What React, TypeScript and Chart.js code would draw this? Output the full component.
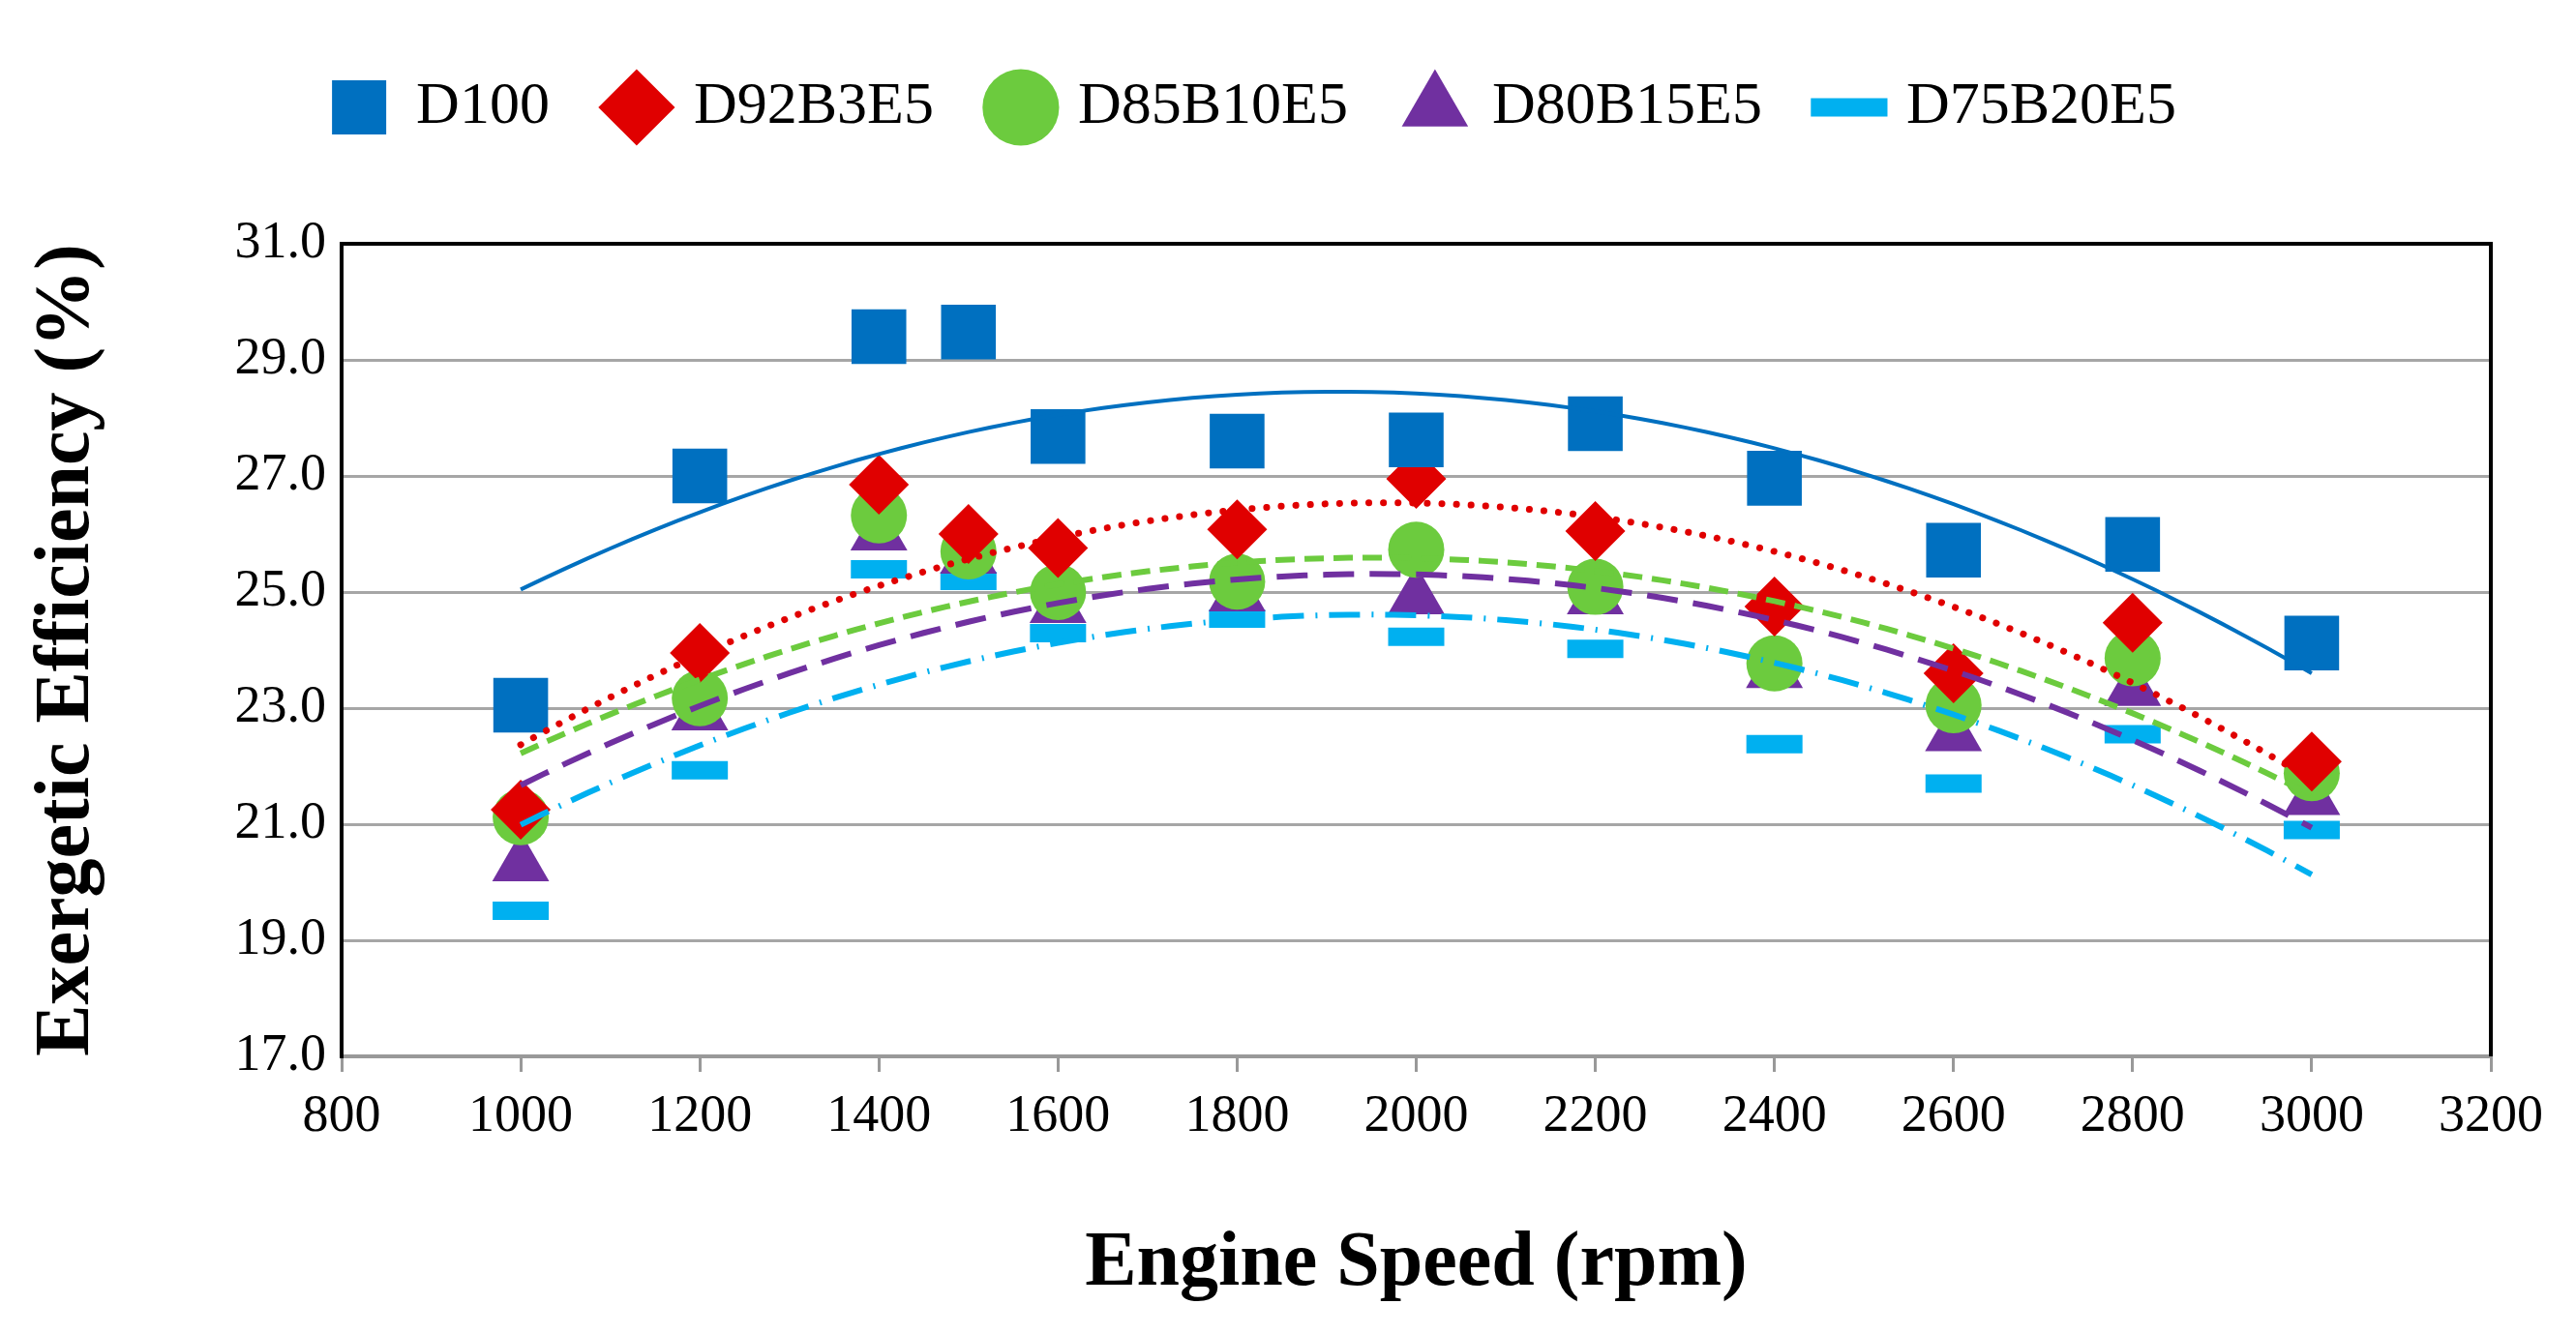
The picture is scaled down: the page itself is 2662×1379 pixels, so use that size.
import React, { useEffect, useRef } from "react";
import { Chart, registerables } from "chart.js";
Chart.register(...registerables);

const speeds = [1000, 1200, 1400, 1500, 1600, 1800, 2000, 2200, 2400, 2600, 2800, 3000];
const seriesNames = ["D100", "D92B3E5", "D85B10E5", "D80B15E5", "D75B20E5"];
const d100 = [23.05, 27.0, 29.4, 29.48, 27.68, 27.6, 27.62, 27.9, 26.96, 25.72, 25.82, 24.12];
const d92 = [21.25, 23.95, 26.85, 26.0, 25.76, 26.08, 26.95, 26.05, 24.75, 23.6, 24.47, 22.08];
const d85 = [21.12, 23.17, 26.32, 25.7, 25.0, 25.18, 25.73, 25.09, 23.77, 23.05, 23.86, 21.88];
const d80 = [20.3, 22.9, 26.0, 25.6, 24.75, 24.95, 24.9, 24.9, 23.63, 22.54, 23.32, 21.44];
const d75 = [19.51, 21.93, 25.39, 25.19, 24.29, 24.54, 24.23, 24.02, 22.38, 21.7, 22.55, 20.9];
const yTicks = [17, 19, 21, 23, 25, 27, 29, 31];

const colors = ["#0070C0", "#E00000", "#6CCB3E", "#7030A0", "#00B0F0"];
const styles = ["rect", "rectRot", "circle", "triangle", "line"];
const radii = [40, 31, 29, 34, 29];
const dashes: number[][] = [[], [0.1, 15], [20, 10], [32, 16], [32, 12, 2, 12]];
const widths = [4, 7, 6, 6, 6];

function fitQuad(xs: number[], ys: number[]) {
  const s = [0, 0, 0, 0, 0];
  const t = [0, 0, 0];
  xs.forEach((x0, i) => {
    const x = x0 / 1000;
    for (let k = 0; k < 5; k++) s[k] += Math.pow(x, k);
    for (let k = 0; k < 3; k++) t[k] += ys[i] * Math.pow(x, k);
  });
  const A = [
    [s[0], s[1], s[2], t[0]],
    [s[1], s[2], s[3], t[1]],
    [s[2], s[3], s[4], t[2]],
  ];
  for (let i = 0; i < 3; i++) {
    for (let j = i + 1; j < 3; j++) {
      const f = A[j][i] / A[i][i];
      for (let k = i; k < 4; k++) A[j][k] -= f * A[i][k];
    }
  }
  const c = [0, 0, 0];
  for (let i = 2; i >= 0; i--) {
    let v = A[i][3];
    for (let k = i + 1; k < 3; k++) v -= A[i][k] * c[k];
    c[i] = v / A[i][i];
  }
  const pts = [];
  for (let x0 = 1000; x0 <= 3000; x0 += 25) {
    const x = x0 / 1000;
    pts.push({ x: x0, y: c[0] + c[1] * x + c[2] * x * x });
  }
  return pts;
}

export default function App() {
  const ref = useRef<HTMLCanvasElement>(null);
  useEffect(() => {
    const all = [d100, d92, d85, d80, d75];
    const datasets: any[] = [];
    all.forEach((vals, i) => {
      datasets.push({
        label: seriesNames[i],
        data: speeds.map((x, j) => ({ x, y: vals[j] })),
        pointStyle: styles[i],
        pointRadius: radii[i],
        backgroundColor: colors[i],
        borderColor: colors[i],
        pointBorderWidth: i === 4 ? 19 : 0,
        showLine: false,
        order: 1,
      });
    });
    all.forEach((vals, i) => {
      datasets.push({
        label: "trend" + i,
        data: fitQuad(speeds, vals),
        showLine: true,
        pointRadius: 0,
        borderColor: colors[i],
        borderWidth: widths[i],
        borderDash: dashes[i],
        borderCapStyle: i === 1 ? "round" : "butt",
        fill: false,
        order: 0,
      });
    });
    const frame = {
      id: "frame",
      afterInit(chart: any) {
        const lg = chart.legend;
        if (lg) {
          const orig = lg.fit;
          lg.fit = function () {
            orig.call(this);
            this.height += 100;
          };
        }
      },
      afterDraw(chart: any) {
        const { ctx, chartArea: a } = chart;
        ctx.save();
        ctx.strokeStyle = "#000";
        ctx.lineWidth = 4;
        ctx.beginPath();
        ctx.moveTo(a.left, a.bottom);
        ctx.lineTo(a.left, a.top);
        ctx.lineTo(a.right, a.top);
        ctx.lineTo(a.right, a.bottom);
        ctx.stroke();
        ctx.restore();
      },
    };
    const serif = "'Liberation Serif', 'Times New Roman', serif";
    const chart = new Chart(ref.current!, {
      type: "scatter",
      data: { datasets },
      plugins: [frame],
      options: {
        animation: false,
        responsive: false,
        devicePixelRatio: 1,
        layout: { padding: { top: 10, left: 10, right: 80, bottom: 12 } },
        plugins: {
          tooltip: { enabled: false },
          legend: {
            position: "top",
            labels: {
              filter: (item: any) => item.datasetIndex < 5,
              usePointStyle: true,
              boxHeight: 56,
              boxWidth: 56,
              padding: 62,
              color: "#000",
              font: { family: serif, size: 62 },
            },
          },
        },
        scales: {
          x: {
            type: "linear",
            min: 800,
            max: 3200,
            afterFit: (s: any) => { s.height = 267; },
            ticks: { stepSize: 200, color: "#000", font: { family: serif, size: 54 }, padding: 14, maxRotation: 0, callback: (v: any) => String(v) },
            grid: { drawOnChartArea: false, drawTicks: true, tickLength: 16, color: "#999", lineWidth: 3 },
            border: { color: "#999", width: 4 },
            title: { display: true, text: "Engine Speed (rpm)", color: "#000", font: { family: serif, size: 80, weight: "bold" }, padding: { top: 28 } },
          },
          y: {
            min: 17,
            max: 31,
            afterFit: (s: any) => { s.width = 335; },
            afterBuildTicks: (s: any) => { s.ticks = yTicks.map((v) => ({ value: v })); },
            ticks: { color: "#000", font: { family: serif, size: 54 }, padding: 16, callback: (v: any) => Number(v).toFixed(1) },
            grid: { color: "#a6a6a6", lineWidth: 3, drawTicks: false },
            border: { color: "#000", width: 4 },
            title: { display: true, text: "Exergetic Efficiency (%)", color: "#000", font: { family: serif, size: 80, weight: "bold" }, padding: { bottom: 10 } },
          },
        },
      } as any,
    });
    return () => chart.destroy();
  }, []);
  return (
    <div style={{ width: 2646, height: 1363, background: "#fff" }}>
      <canvas ref={ref} width={2646} height={1363} />
    </div>
  );
}
